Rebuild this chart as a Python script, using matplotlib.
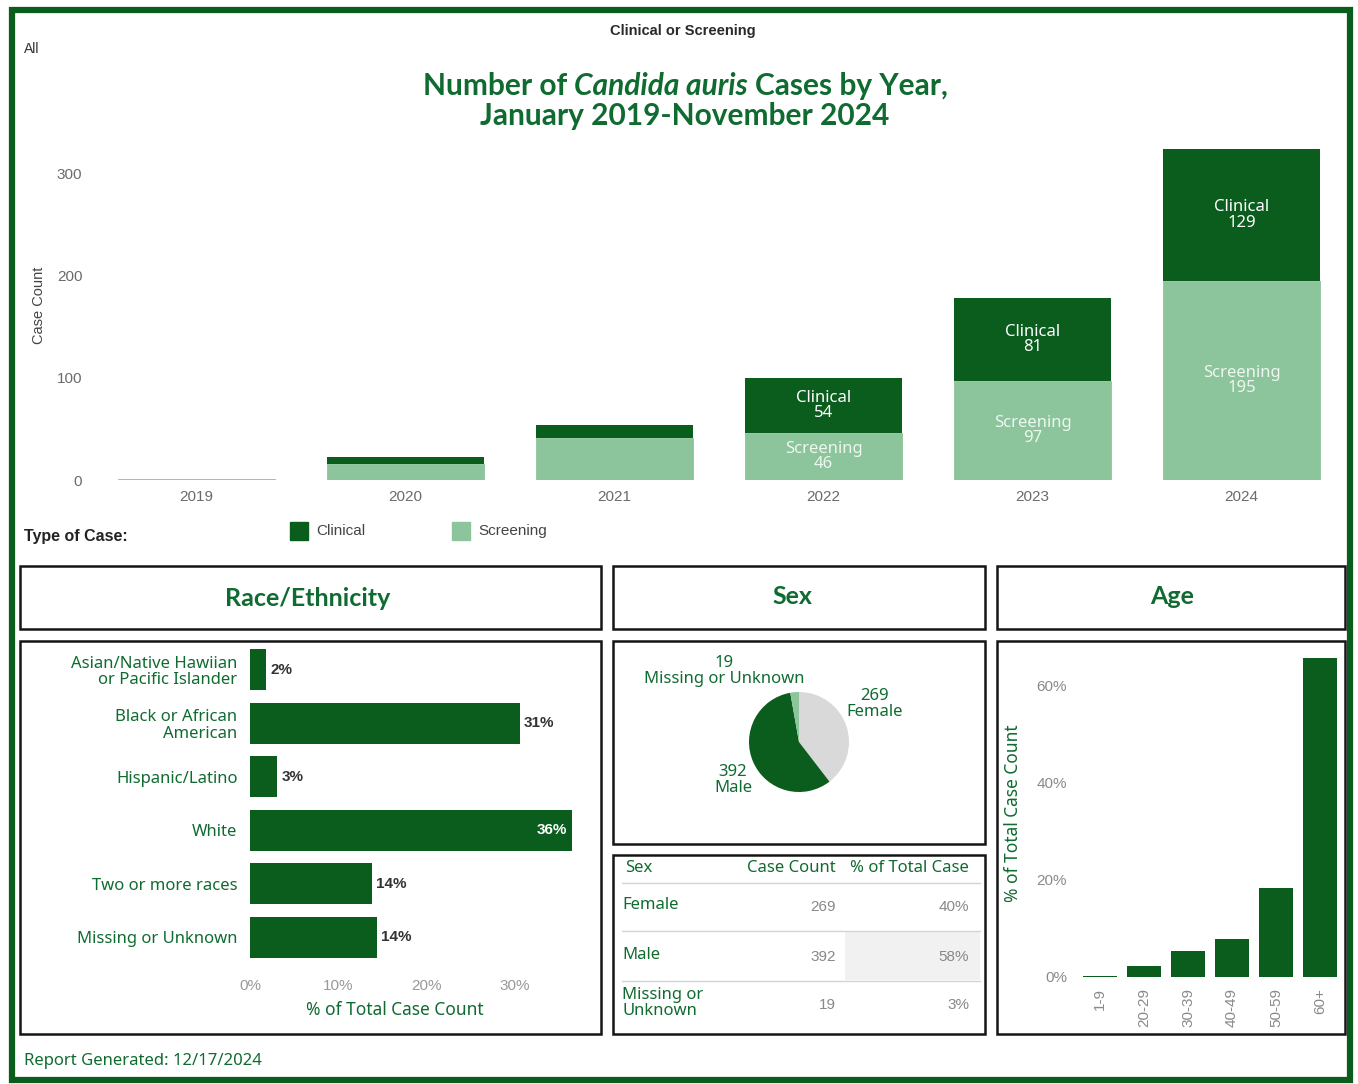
import numpy as np
import matplotlib
matplotlib.use("Agg")
import matplotlib.pyplot as plt
from matplotlib.patches import Rectangle

# ---- data ----
years = ["2019", "2020", "2021", "2022", "2023", "2024"]
clinical = [0, 7, 13, 54, 81, 129]
screening = [1, 16, 41, 46, 97, 195]

race_labels = ["Asian/Native Hawiian\nor Pacific Islander", "Black or African\nAmerican",
               "Hispanic/Latino", "White", "Two or more races", "Missing or Unknown"]
race_pct = [1.8, 30.6, 3.1, 36.6, 13.8, 14.4]
race_text = ["2%", "31%", "3%", "36%", "14%", "14%"]

sex_labels = ["Female", "Male", "Missing or Unknown"]
sex_counts = [269, 392, 19]
sex_pct_text = ["40%", "58%", "3%"]

age_groups = ["1-9", "20-29", "30-39", "40-49", "50-59", "60+"]
age_pct = [0.3, 2.3, 5.4, 7.8, 18.4, 65.8]

# ---- styling ----
W, H = 1358, 1084
DARK = "#0b5d1e"
LIGHT = "#8cc49b"
GREY_PIE = "#d9d9d9"
TXT_GREEN = "#0f6b30"
GREY = "#6b6b6b"
SANS = "Noto Sans"
BOLD = "Lato"
ARIAL = "Liberation Sans"


def px(x0, y0, x1, y1):
    return [x0 / W, 1 - y1 / H, (x1 - x0) / W, (y1 - y0) / H]


fig = plt.figure(figsize=(W / 100, H / 100), dpi=100)
fig.patch.set_facecolor("white")

bg = fig.add_axes([0, 0, 1, 1])
bg.set_xlim(0, W)
bg.set_ylim(H, 0)
bg.axis("off")

# outer frame
bg.add_patch(Rectangle((12, 10), 1338, 1070, fill=False, edgecolor=DARK, lw=4.5))

# panel boxes
for (x0, y0, x1, y1) in [(20, 566, 601, 629), (613, 566, 985, 629), (997, 566, 1345, 629),
                         (20, 641, 601, 1034), (613, 641, 985, 844), (613, 855, 985, 1034),
                         (997, 641, 1345, 1034)]:
    bg.add_patch(Rectangle((x0, y0), x1 - x0, y1 - y0, fill=False, edgecolor="#151515", lw=1.8))

bg.text(683, 31, "Clinical or Screening", ha="center", va="center", fontsize=10.5,
        family=ARIAL, color="#2a2a2a", fontweight="bold")
bg.text(24, 49, "All", ha="left", va="center", fontsize=10, family=ARIAL, color="#333333")

# title with italic species name
tkw = dict(fontsize=21.5, family=BOLD, fontweight="bold", color=TXT_GREEN)
t1 = bg.text(0, 86, "Number of", ha="left", va="center", **tkw)
t2 = bg.annotate("Candida auris", xy=(1, 0), xycoords=t1, xytext=(5, 0), textcoords="offset points",
                 ha="left", va="bottom", style="italic", **tkw)
t3 = bg.annotate("Cases by Year,", xy=(1, 0), xycoords=t2, xytext=(5, 0), textcoords="offset points",
                 ha="left", va="bottom", **tkw)
bg.text(685, 116, "January 2019-November 2024", ha="center", va="center", **tkw)

# legend
bg.text(24, 537, "Type of Case:", ha="left", va="center", fontsize=11.5, family=ARIAL,
        fontweight="bold", color="#222222")
bg.add_patch(Rectangle((290, 522), 18, 18, color=DARK))
bg.text(316, 531, "Clinical", ha="left", va="center", fontsize=11, family=ARIAL, color="#444444")
bg.add_patch(Rectangle((452, 522), 18, 18, color=LIGHT))
bg.text(478, 531, "Screening", ha="left", va="center", fontsize=11, family=ARIAL, color="#444444")

# panel headers
hkw = dict(ha="center", va="center", fontsize=18, family=BOLD, fontweight="bold", color=TXT_GREEN)
bg.text(308, 599, "Race/Ethnicity", **hkw)
bg.text(792, 596, "Sex", **hkw)
bg.text(1172, 596, "Age", **hkw)

bg.text(24, 1061, "Report Generated: 12/17/2024", ha="left", va="center", fontsize=12,
        family=SANS, color=TXT_GREEN)

# ---- top stacked bar chart ----
ax = fig.add_axes(px(92, 140, 1346, 480))
x = np.arange(len(years))
ax.bar(x, screening, width=0.755, color=LIGHT, edgecolor=LIGHT, linewidth=0.6)
ax.bar(x, clinical, width=0.755, bottom=screening, color=DARK)
ax.set_xlim(-0.5, len(years) - 0.5)
ax.set_ylim(0, 333)
ax.set_yticks([0, 100, 200, 300])
ax.set_xticks(x)
ax.set_xticklabels(years)
for s in ax.spines.values():
    s.set_visible(False)
ax.tick_params(length=0, labelsize=11, labelcolor=GREY, pad=7)
for lab in ax.get_xticklabels() + ax.get_yticklabels():
    lab.set_family(ARIAL)
bg.text(39, 305, "Case Count", rotation=90, ha="center", va="center", fontsize=10.5,
        family=ARIAL, color="#444444")
for i in range(3, len(years)):
    ax.text(i, screening[i] + clinical[i] / 2, f"Clinical\n{clinical[i]}", ha="center", va="center",
            color="white", fontsize=12, family=SANS, linespacing=0.95)
    ax.text(i, screening[i] / 2, f"Screening\n{screening[i]}", ha="center", va="center",
            color="#eef7f0", fontsize=12, family=SANS, linespacing=0.95)

# ---- race/ethnicity bars ----
ax = fig.add_axes(px(250, 643, 590, 964))
y = np.arange(len(race_labels))
ax.barh(y, race_pct, height=0.77, color=DARK)
ax.set_ylim(len(race_labels) - 0.5, -0.5)
ax.set_xlim(0, 38.6)
ax.set_yticks(y)
ax.set_yticklabels(race_labels, fontsize=12, family=SANS, color=TXT_GREEN, linespacing=1.05)
ax.set_xticks([0, 10, 20, 30])
ax.set_xticklabels(["0%", "10%", "20%", "30%"], fontsize=11, family=ARIAL, color="#999999")
for s in ax.spines.values():
    s.set_visible(False)
ax.tick_params(length=0, pad=9)
ax.tick_params(axis="x", pad=11)
ax.set_xlabel("% of Total Case Count", fontsize=12.5, family=SANS, color=TXT_GREEN)
ax.xaxis.set_label_coords((395 - 250) / 340, -(1010 - 964) / 321)
ax.xaxis.label.set_va("center")
for i, (v, t) in enumerate(zip(race_pct, race_text)):
    if v > 35:
        ax.text(v - 0.6, i, t, ha="right", va="center", color="white", fontsize=11,
                family=ARIAL, fontweight="bold")
    else:
        ax.text(v + 0.5, i, t, ha="left", va="center", color="#333333", fontsize=11,
                family=ARIAL, fontweight="bold")

# ---- sex pie ----
ax = fig.add_axes(px(749, 692, 849, 792))
ax.pie(sex_counts, colors=[GREY_PIE, DARK, LIGHT], startangle=90, counterclock=False, radius=1)
ax.set_xlim(-1, 1)
ax.set_ylim(-1, 1)
ax.set_aspect("equal")
pkw = dict(ha="center", va="center", fontsize=12, family=SANS, color=TXT_GREEN, linespacing=1.0)
bg.text(724, 671, f"{sex_counts[2]}\n{sex_labels[2]}", **pkw)
bg.text(875, 704, f"{sex_counts[0]}\n{sex_labels[0]}", **pkw)
bg.text(733, 780, f"{sex_counts[1]}\n{sex_labels[1]}", **pkw)

# ---- sex table ----
bg.add_patch(Rectangle((845, 932), 135, 48, color="#f1f1f1", lw=0))
bg.text(625, 868, "Sex", ha="left", va="center", fontsize=12, family=SANS, color=TXT_GREEN)
bg.text(836, 868, "Case Count", ha="right", va="center", fontsize=12, family=SANS, color=TXT_GREEN)
bg.text(969, 868, "% of Total Case", ha="right", va="center", fontsize=12, family=SANS, color=TXT_GREEN)
for yy in (883, 931, 981):
    bg.plot([622, 980], [yy, yy], color="#d4d4d4", lw=1)
row_y = [905, 955, 1003]
row_names = ["Female", "Male", "Missing or\nUnknown"]
for ry, name, cnt, pct in zip(row_y, row_names, sex_counts, sex_pct_text):
    bg.text(622, ry, name, ha="left", va="center", fontsize=12, family=SANS, color=TXT_GREEN,
            linespacing=0.95)
    bg.text(836, ry + 2, str(cnt), ha="right", va="center", fontsize=11, family=ARIAL, color="#888888")
    bg.text(969, ry + 2, pct, ha="right", va="center", fontsize=11, family=ARIAL, color="#888888")

# ---- age bars ----
ax = fig.add_axes(px(1078, 650, 1342, 977))
xa = np.arange(len(age_groups))
ax.bar(xa, age_pct, width=0.77, color=DARK)
ax.set_xlim(-0.5, len(age_groups) - 0.5)
ax.set_ylim(0, 67.4)
ax.set_yticks([0, 20, 40, 60])
ax.set_yticklabels(["0%", "20%", "40%", "60%"], fontsize=11, family=ARIAL, color="#8a8a8a")
ax.set_xticks(xa)
ax.set_xticklabels(age_groups, rotation=90, fontsize=11, family=ARIAL, color="#8a8a8a")
for s in ax.spines.values():
    s.set_visible(False)
ax.tick_params(length=0, pad=8)
ax.set_ylabel("% of Total Case Count", fontsize=12.5, family=SANS, color=TXT_GREEN, labelpad=10)

# center the first title line
fig.canvas.draw()
r = fig.canvas.get_renderer()
x0 = t1.get_window_extent(r).x0
x1 = t3.get_window_extent(r).x1
t1.set_x(685 - (x0 + x1) / 2)

fig.savefig("out.png", dpi=100, facecolor="white")
